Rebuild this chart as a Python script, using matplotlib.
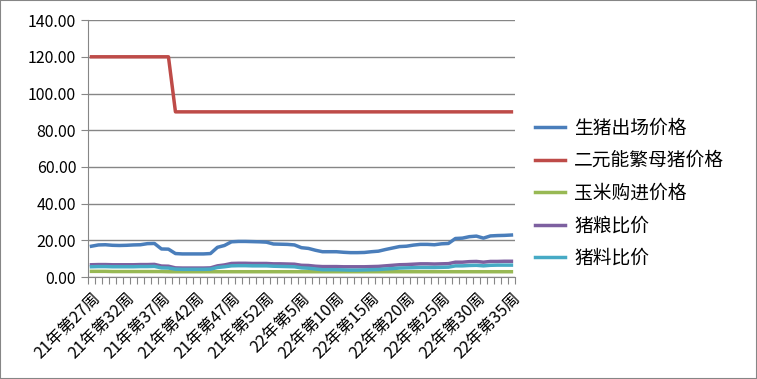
import numpy as np
import matplotlib
matplotlib.use("Agg")
import matplotlib.pyplot as plt
from matplotlib.patches import Rectangle

plt.rcParams['font.family'] = ['Noto Sans CJK SC', 'DejaVu Sans']

# weeks: 21年第27周 .. 21年第52周, 22年第1周 .. 22年第35周
weeks = ["21年第%d周" % w for w in range(27, 53)] + ["22年第%d周" % w for w in range(1, 36)]

hog_price = [16.8, 17.5, 17.6, 17.3, 17.2, 17.3, 17.5, 17.6, 18.2, 18.3,
             15.3, 15.2, 12.8, 12.6, 12.6, 12.6, 12.6, 12.8, 16.2, 17.2,
             19.2, 19.4, 19.4, 19.3, 19.2, 19.0, 18.0, 17.9, 17.8, 17.5,
             16.0, 15.6, 14.6, 13.8, 13.8, 13.8, 13.5, 13.3, 13.3, 13.4,
             13.8, 14.1, 15.0, 15.8, 16.6, 16.8, 17.4, 17.8, 17.8, 17.6,
             18.1, 18.3, 21.0, 21.2, 22.0, 22.3, 21.2, 22.4, 22.6, 22.7,
             22.9]
sow_price = [120.0] * 12 + [90.0] * 49
corn_price = [3.1, 3.1, 3.1, 3.0, 3.0, 3.0, 3.0, 3.0, 3.0, 3.0,
              3.0, 2.9, 2.9, 2.9, 2.9, 2.9, 2.9, 2.9, 2.9, 2.9,
              2.9, 2.9, 2.9, 2.9, 2.9, 2.9, 2.9, 2.9, 2.9, 2.9,
              2.9, 2.9, 2.9, 2.9, 2.9, 2.9, 2.9, 2.9, 2.9, 2.9,
              2.9, 2.9, 2.9, 2.9, 2.9, 2.9, 2.9, 2.9, 2.9, 2.9,
              2.9, 2.9, 2.9, 2.9, 2.9, 2.9, 2.9, 2.9, 2.9, 2.9,
              2.9]
hog_grain = [6.7, 6.8, 6.8, 6.7, 6.7, 6.7, 6.7, 6.8, 6.8, 6.9,
             6.0, 5.9, 5.0, 4.9, 4.9, 4.9, 4.9, 5.0, 6.1, 6.6,
             7.4, 7.5, 7.5, 7.4, 7.4, 7.4, 7.2, 7.2, 7.1, 7.0,
             6.4, 6.3, 5.9, 5.7, 5.7, 5.7, 5.6, 5.6, 5.6, 5.6,
             5.7, 5.8, 6.1, 6.4, 6.7, 6.8, 7.0, 7.2, 7.2, 7.1,
             7.2, 7.3, 8.1, 8.1, 8.4, 8.5, 8.1, 8.5, 8.5, 8.6,
             8.6]
hog_feed = [5.6, 5.7, 5.7, 5.6, 5.6, 5.6, 5.6, 5.7, 5.7, 5.8,
            5.0, 4.9, 4.3, 4.2, 4.2, 4.2, 4.2, 4.3, 5.2, 5.6,
            6.1, 6.2, 6.2, 6.1, 6.1, 6.1, 5.9, 5.8, 5.7, 5.6,
            5.0, 4.8, 4.4, 4.0, 4.0, 4.0, 3.9, 3.8, 3.8, 3.9,
            4.0, 4.1, 4.4, 4.6, 4.9, 5.0, 5.1, 5.2, 5.2, 5.2,
            5.3, 5.4, 6.1, 6.1, 6.3, 6.4, 6.1, 6.4, 6.5, 6.5,
            6.5]

names = ["生猪出场价格", "二元能繁母猪价格", "玉米购进价格", "猪粮比价", "猪料比价"]
series = [hog_price, sow_price, corn_price, hog_grain, hog_feed]
colors = ["#4A7EBB", "#BE4B48", "#98B954", "#7D60A0", "#46AAC5"]

fig = plt.figure(figsize=(7.57, 3.79), dpi=100)
ax = fig.add_axes([0.1162, 0.269, 0.564, 0.678])

x = np.arange(len(weeks))
lines = []
for vals, c, n in zip(series, colors, names):
    l, = ax.plot(x, vals, color=c, lw=2.5, label=n, solid_joinstyle='round')
    lines.append(l)

ax.set_xlim(-0.5, len(weeks) - 0.5)
ax.set_ylim(0, 140)
ax.set_yticks(np.arange(0, 141, 20))
ax.set_yticklabels(["%.2f" % v for v in np.arange(0, 141, 20)], fontsize=11.5)
ax.yaxis.grid(True, color="#868686", lw=1)
ax.set_axisbelow(True)

# category boundary ticks, labels every 5 weeks
ax.set_xticks(np.arange(len(weeks) + 1) - 0.5)
ax.set_xticklabels([])
ax.tick_params(axis='x', which='major', length=5, color="#868686")
lab_pos = x[::5]
ax.set_xticks(lab_pos, minor=True)
ax.set_xticklabels([weeks[i] for i in lab_pos], minor=True, rotation=45,
                   ha='right', va='top', rotation_mode='anchor', fontsize=11.8)
ax.tick_params(axis='x', which='minor', length=0, pad=9)
ax.tick_params(axis='y', length=5, color="#868686")

for s in ['top', 'right']:
    ax.spines[s].set_visible(False)
ax.spines['left'].set_color("#868686")
ax.spines['bottom'].set_color("#868686")

fig.legend(handles=lines, loc='center left', bbox_to_anchor=(0.684, 0.49),
           frameon=False, fontsize=13.5, handlelength=1.6, handletextpad=0.5,
           labelspacing=0.62)

fig.patches.append(Rectangle((0, 0), 1, 1, transform=fig.transFigure,
                             fill=False, edgecolor="#868686", lw=1.5))

fig.savefig("out.png", dpi=100)
